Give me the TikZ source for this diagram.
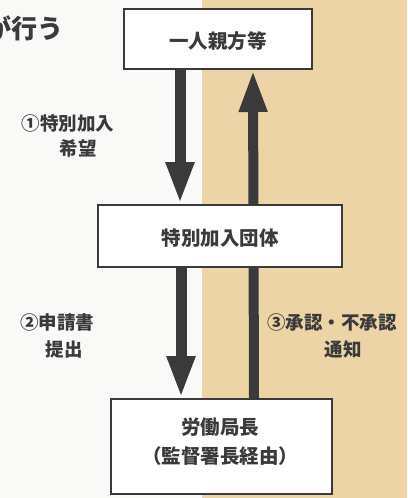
\documentclass[tikz,border=0pt]{standalone}
\usepackage{fontspec}
\setmainfont{Noto Sans CJK JP}
\usetikzlibrary{arrows.meta}
\definecolor{tan}{HTML}{ECD4A7}
\definecolor{paper}{HTML}{F9F9F7}
\definecolor{ink}{HTML}{3A3A3A}
\pgfdeclarelayer{back}
\pgfdeclarelayer{mid}
\pgfsetlayers{back,mid,main}
\tikzset{
  box/.style={draw=ink, line width=2pt, fill=white, inner sep=0pt, text=ink,
    font=\bfseries\fontsize{19.5pt}{29pt}\selectfont, align=center},
  boxtext/.style={text=ink, inner sep=0pt, font=\bfseries\fontsize{19.5pt}{29pt}\selectfont, align=center},
  lab/.style={text=ink, inner sep=0pt, font=\bfseries\fontsize{18.5pt}{24pt}\selectfont},
  flow/.style={draw=ink, line width=11pt, -{Triangle[width=26pt,length=42pt]}, shorten <=0pt}
}
\begin{document}
\begin{tikzpicture}[x=1pt,y=-1pt]
\useasboundingbox (0,0) rectangle (407,498);
\begin{pgfonlayer}{back}
  \clip (0,0) rectangle (407,498);
  \fill[paper] (0,0) rectangle (202,498);
  \fill[tan] (202,0) rectangle (407,498);
\end{pgfonlayer}
\node[box, minimum width=188pt, minimum height=60pt] (b1) at (218,39) {};
\node[boxtext] (b1t) at (218,41.5) {一人親方等};
\node[box, minimum width=244pt, minimum height=62pt] (b2) at (220,236) {};
\node[boxtext] (b2t) at (220,238) {特別加入団体};
\node[box, minimum width=221pt, minimum height=95pt] (b3) at (221.5,446.5) {};
\node[boxtext] (b3t) at (220,442) {労働局長\\（監督署長経由）};
\node[anchor=east, text=ink, inner sep=0pt, font=\bfseries\fontsize{26pt}{30pt}\selectfont] (t0) at (64,28) {が行う};
\begin{pgfonlayer}{mid}
  \draw[flow] ([xshift=-38pt]b1.south) -- ([xshift=-40pt]b2.north);
  \draw[flow] ([xshift=-39pt]b2.south) -- ([xshift=-40.5pt]b3.north);
  \draw[flow, line width=10pt] ([xshift=32.5pt]b3.north) -- ([xshift=35pt]b1.south);
\end{pgfonlayer}
\node[lab] (l1a) at (68,123) {①特別加入};
\node[lab] (l1b) at (78,148) {希望};
\node[lab] (l2a) at (57,322) {②申請書};
\node[lab] (l2b) at (64,349) {提出};
\node[lab] (l3a) at (332,322) {③承認・不承認};
\node[lab] (l3b) at (343,349) {通知};
\end{tikzpicture}
\end{document}
